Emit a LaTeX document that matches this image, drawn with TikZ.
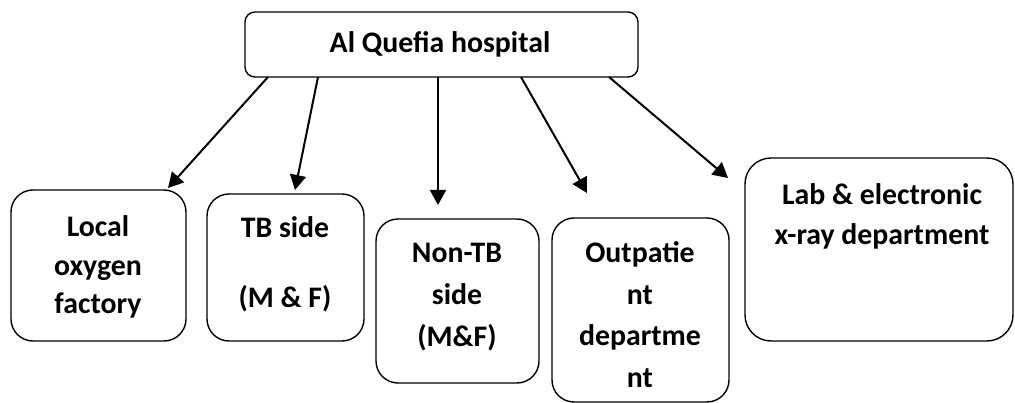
\documentclass[tikz,border=0pt]{standalone}
\usepackage{fontspec}
\setmainfont{Carlito}
\usetikzlibrary{arrows.meta}
\begin{document}
\begin{tikzpicture}[x=1pt,y=-1pt,
  box/.style={draw=black, line width=1.4pt, rounded corners=22pt, inner sep=0pt, fill=white},
  txt/.style={anchor=base, inner sep=0pt, font=\fontsize{29.8}{34}\selectfont\bfseries},
  arr/.style={line width=2pt, -{Triangle[length=15pt,width=16pt]}}]
\useasboundingbox (0,0) rectangle (1015,403);
% boxes
\node[box, rounded corners=10pt, minimum width=393pt, minimum height=65pt] (b0) at (441.5,44.5) {};
\node[box, minimum width=175pt, minimum height=151pt] (b1) at (98.5,265.5) {};
\node[box, minimum width=157pt, minimum height=147pt] (b2) at (285.5,267.5) {};
\node[box, minimum width=163pt, minimum height=164pt] (b3) at (457.5,301) {};
\node[box, minimum width=177pt, minimum height=184pt] (b4) at (640.5,310) {};
\node[box, rounded corners=26pt, minimum width=268pt, minimum height=183pt] (b5) at (879,249.5) {};
% texts
\node[txt] (t0) at (440,53) {Al Quefia hospital};
\node[txt] (t1a) at (98,237) {Local};
\node[txt] (t1b) at (98,276) {oxygen};
\node[txt] (t1c) at (98,314) {factory};
\node[txt] (t2a) at (285,238) {TB side};
\node[txt] (t2b) at (285,308) {(M \& F)};
\node[txt] (t3a) at (457,263) {Non-TB};
\node[txt] (t3b) at (457,305) {side};
\node[txt] (t3c) at (457,347) {(M\&F)};
\node[txt] (t4a) at (640,263) {Outpatie};
\node[txt] (t4b) at (640,305) {nt};
\node[txt] (t4c) at (640,345) {departme};
\node[txt] (t4d) at (640,387) {nt};
\node[txt] (t5a) at (882,205) {Lab \& electronic};
\node[txt] (t5b) at (882,245) {x-ray department};
% arrow ends
\coordinate (s1) at (268,77);  \coordinate (e1) at (168,188);
\coordinate (s2) at (318,77);  \coordinate (e2) at (295,190);
\coordinate (s3) at (438,77);  \coordinate (e3) at (438,205);
\coordinate (s4) at (521,77);  \coordinate (e4) at (587,193);
\coordinate (s5) at (609,77);  \coordinate (e5) at (728,178);
\draw[arr] (s1) -- (e1);
\draw[arr] (s2) -- (e2);
\draw[arr] (s3) -- (e3);
\draw[arr] (s4) -- (e4);
\draw[arr] (s5) -- (e5);
\end{tikzpicture}
\end{document}
